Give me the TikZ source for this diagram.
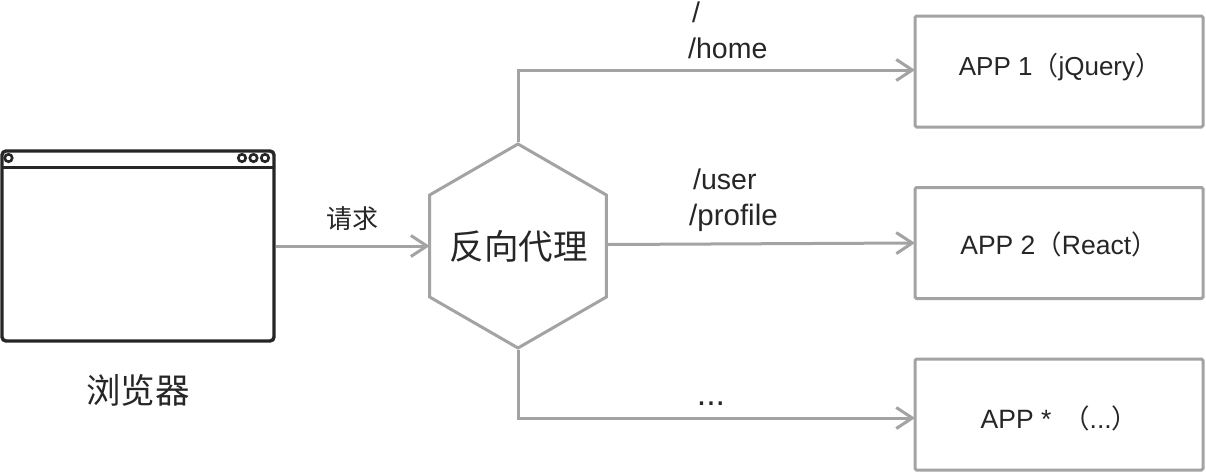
\documentclass[tikz,border=0pt]{standalone}
\usepackage{fontspec}
\setmainfont{Liberation Sans}
\newfontfamily\cjk{Noto Sans CJK SC}
\usetikzlibrary{shapes.geometric,arrows.meta}
\definecolor{linegray}{HTML}{A3A3A3}
\definecolor{inkdark}{HTML}{262626}
\tikzset{
  conn/.style={draw=linegray,line width=3pt,shorten >=-1.5pt,-{Straight Barb[length=16pt,width=21pt,line width=3pt]}},
  appbox/.style={draw=linegray,line width=3pt,rounded corners=1.5pt,minimum width=288pt,minimum height=111pt,inner sep=0pt,text=inkdark},
  lab/.style={text=inkdark,inner sep=0pt,font=\fontsize{26.5}{28}\selectfont},
  path lab/.style={lab,font=\fontsize{28.5}{30}\selectfont},
  big/.style={text=inkdark,inner sep=0pt,font=\cjk\fontsize{34.5}{36}\selectfont},
  dot/.style={circle,draw=inkdark,line width=2.6pt,minimum size=7.5pt,inner sep=0pt},
  hexa/.style={draw=linegray,line width=3pt,regular polygon,regular polygon sides=6,shape border rotate=30,minimum size=204pt,inner sep=0pt}
}
\begin{document}
\begin{tikzpicture}[x=1pt,y=-1pt]
\useasboundingbox (0,0) rectangle (1206,474);
\fill[white] (0,0) rectangle (1206,474);
% browser window
\node[draw=inkdark,line width=3.4pt,rounded corners=4pt,minimum width=272pt,minimum height=190pt,inner sep=0pt] (win) at (138,246) {};
\coordinate (barL) at (2,167);
\coordinate (barR) at (274,167);
\draw[inkdark,line width=3pt] (barL) -- (barR);
\node[dot] (d0) at (8.5,158) {};
\node[dot] (d1) at (242,158) {};
\node[dot] (d2) at (253.5,158) {};
\node[dot] (d3) at (265,158) {};
\node[big] (wlabel) at (138,390) {浏览器};
% proxy
\node[hexa] (hex) at (518,246) {};
\node[big] (hlabel) at (518.5,246) {反向代理};
% apps
\node[appbox] (box1) at (1059,71.5) {};
\node[appbox] (box2) at (1059,243) {};
\node[appbox] (box3) at (1059,414.5) {};
\node[lab,anchor=base,font=\fontsize{26}{28}\selectfont] (t1) at (1060,75) {APP 1{\cjk（}jQuery{\cjk）}};
\node[lab,anchor=base] (t2) at (1059,254) {APP 2{\cjk（}React{\cjk）}};
\node[lab,anchor=base] (t3) at (1059.5,428) {APP *\, {\cjk（}...{\cjk）}};
% connectors
\draw[conn] (win.east) -- (hex.180);
\draw[conn] (hex.90) |- ([yshift=1.5pt]box1.west);
\draw[conn] ([yshift=1.5pt]hex.0) -- (box2.west);
\draw[conn] (hex.270) |- ([yshift=-3.5pt]box3.west);
% labels
\node[lab,font=\cjk\fontsize{26}{28}\selectfont] (req) at (352,219) {请求};
\node[path lab,anchor=base west] (p0) at (692,22) {/};
\node[path lab,anchor=base west] (p1) at (688,58) {/home};
\node[path lab,anchor=base west] (p2) at (693,189) {/user};
\node[path lab,anchor=base west,font=\fontsize{29.5}{30}\selectfont] (p3) at (689,225) {/profile};
\node[path lab,anchor=base,font=\fontsize{34}{36}\selectfont] (p4) at (711,405) {...};
\end{tikzpicture}
\end{document}
